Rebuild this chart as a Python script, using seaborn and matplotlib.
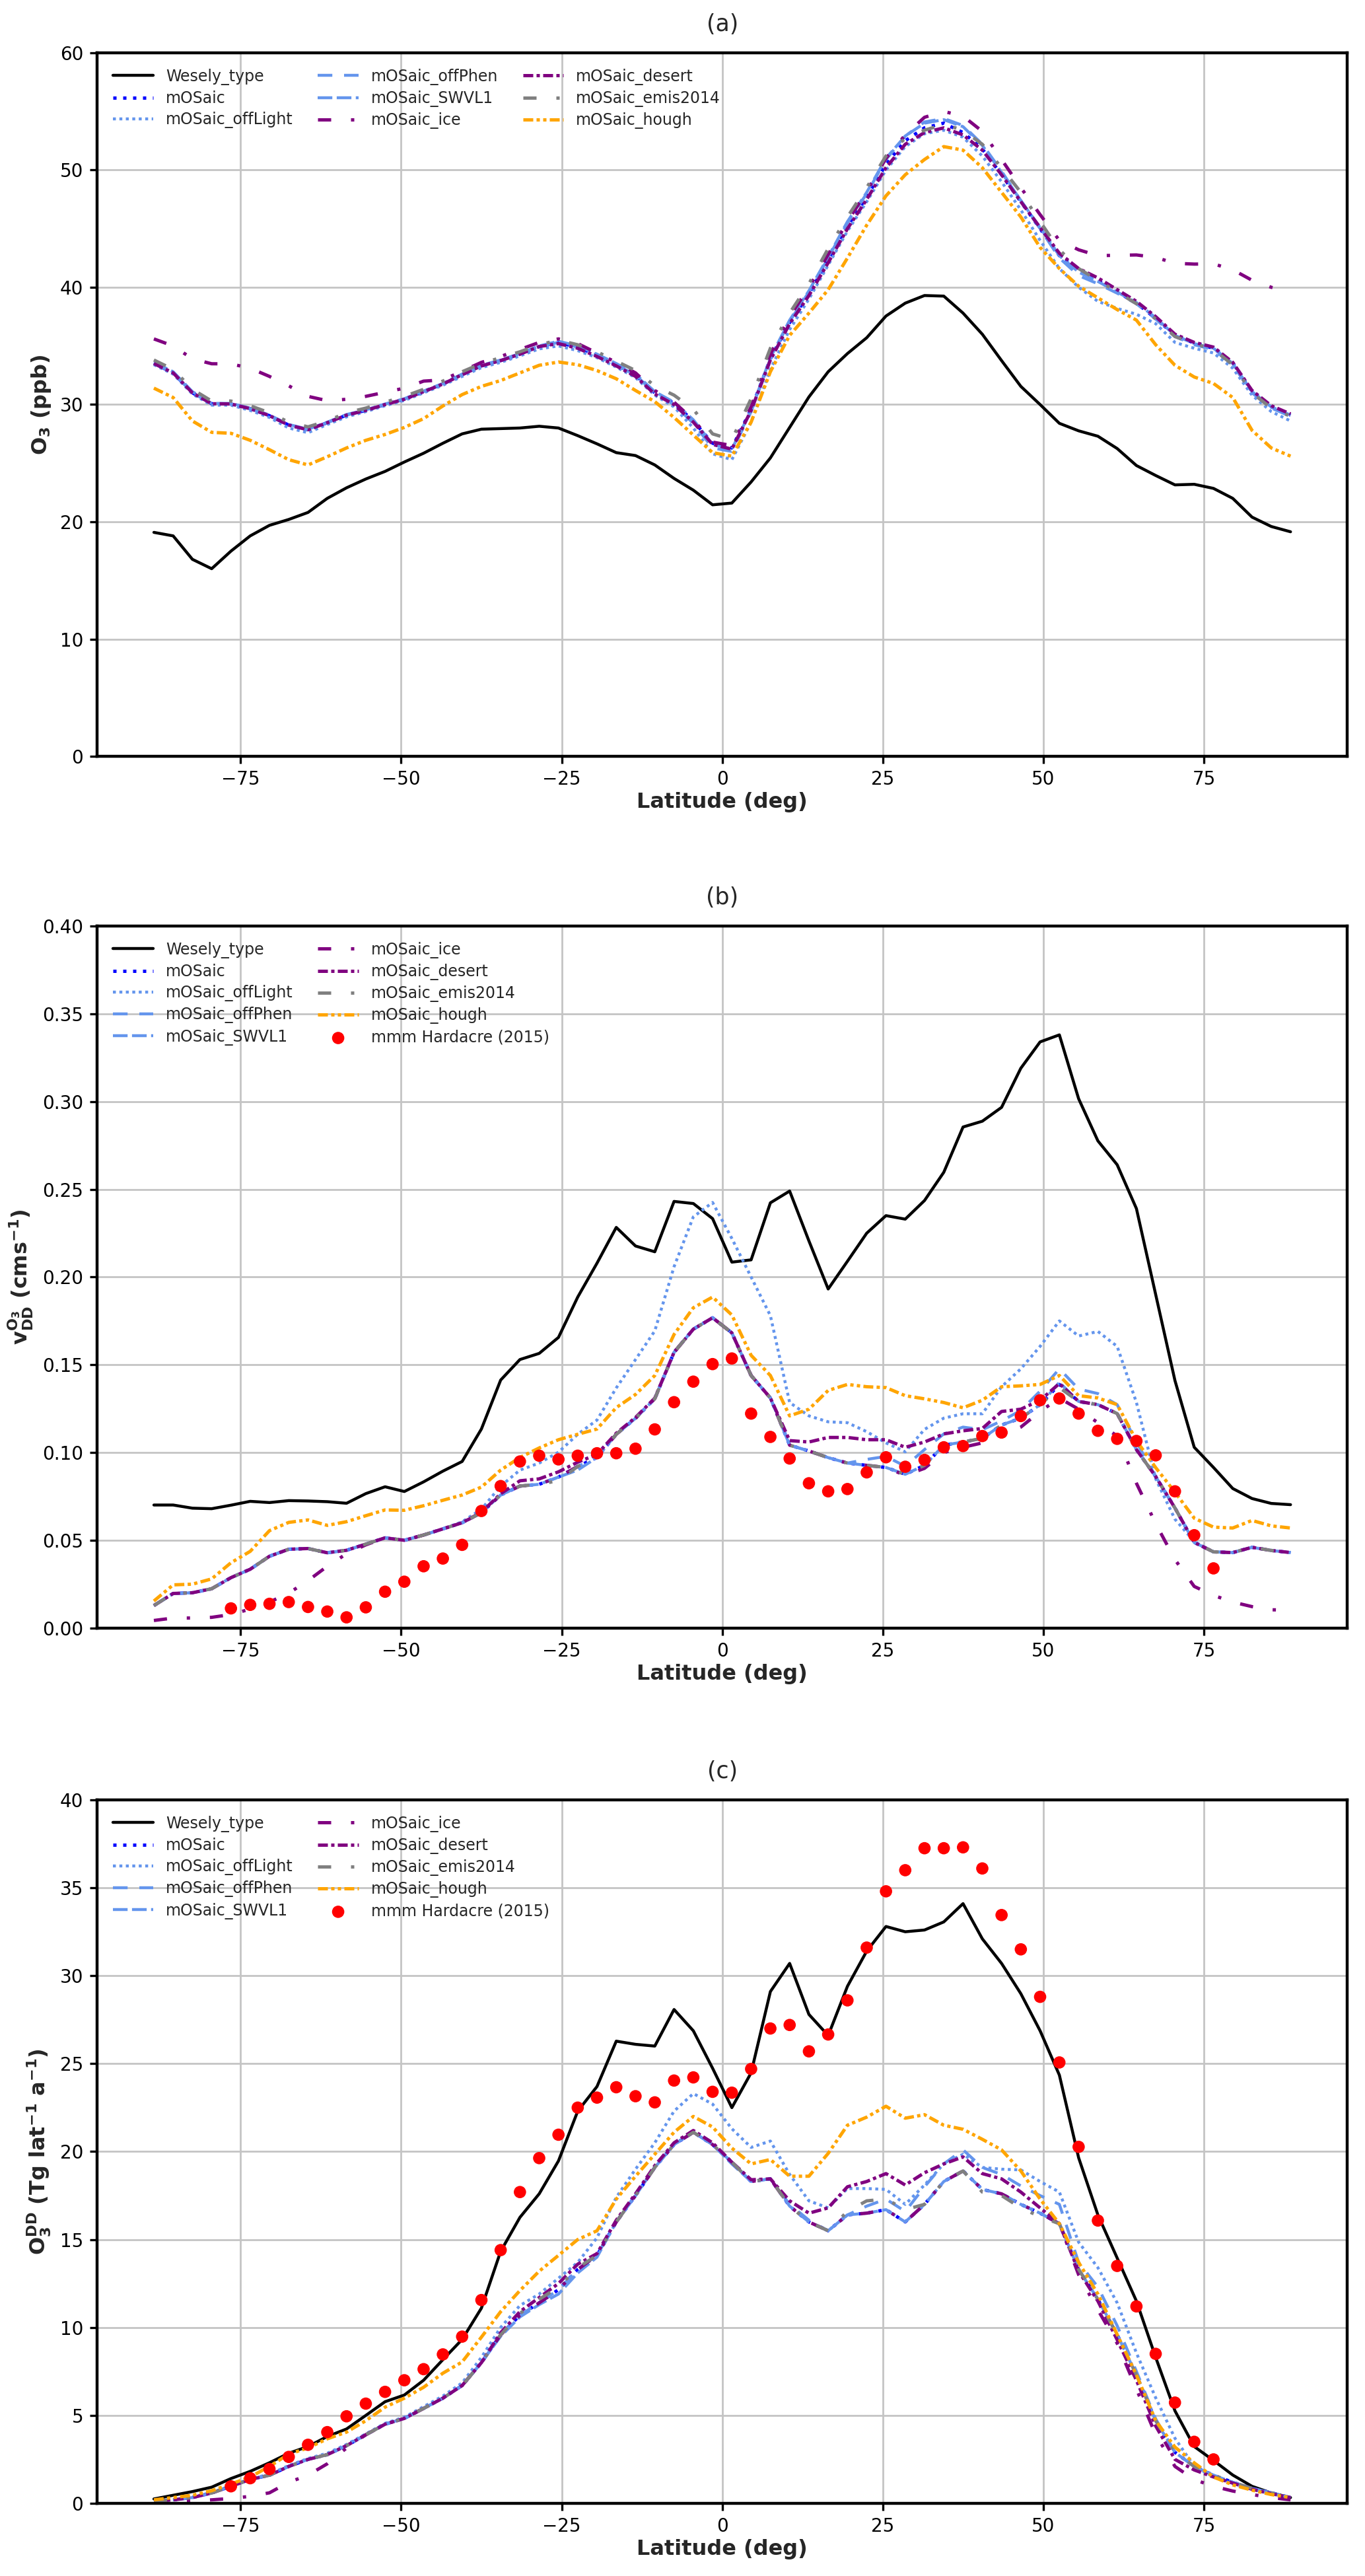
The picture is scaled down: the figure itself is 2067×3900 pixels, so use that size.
import numpy as np
import matplotlib
matplotlib.use("Agg")
import matplotlib.pyplot as plt
import seaborn as sns

# latitude grid of the model zonal means and of the Hardacre (2015) multi-model mean
lat = np.arange(-88.5, 89, 3.0)
lat_h = np.arange(-76.5, 77, 3.0)

# ---------------- panel (a): surface O3 (ppb) ----------------
wes_a = [19.1, 18.8, 16.8, 16.0, 17.5, 18.8, 19.7, 20.2, 20.8, 22.0,
         22.9, 23.65, 24.3, 25.1, 25.85, 26.7, 27.5, 27.9, 27.95, 28.0,
         28.15, 28.0, 27.35, 26.65, 25.9, 25.65, 24.85, 23.7, 22.7, 21.45,
         21.6, 23.4, 25.45, 28.05, 30.65, 32.8, 34.35, 35.7, 37.55, 38.65,
         39.3, 39.25, 37.8, 36.0, 33.75, 31.55, 30.0, 28.4, 27.76, 27.3,
         26.25, 24.8, 23.95, 23.15, 23.2, 22.85, 22.0, 20.4, 19.6, 19.15]
mosaic_a = [33.5, 32.7, 31.0, 30.07, 30.05, 29.65, 29.05, 28.25, 27.85, 28.45,
            29.1, 29.5, 30.0, 30.45, 31.1, 31.75, 32.55, 33.3, 33.75, 34.3,
            34.95, 35.28, 34.9, 34.2, 33.4, 32.5, 31.0, 30.1, 28.6, 26.7,
            26.3, 29.6, 33.9, 37.0, 39.45, 42.3, 45.2, 47.7, 50.5, 52.5,
            53.6, 54.0, 53.2, 51.8, 49.6, 47.3, 45.0, 42.7, 41.45, 40.6,
            39.6, 38.65, 37.35, 35.9, 35.25, 34.8, 33.55, 31.1, 29.8, 29.1]
offlight_a = [33.4, 32.6, 30.9, 29.95, 29.95, 29.5, 28.9, 28.0, 27.6, 28.3,
              28.95, 29.4, 29.9, 30.35, 31.0, 31.65, 32.4, 33.15, 33.6, 34.15,
              34.75, 35.0, 34.6, 34.0, 33.2, 32.3, 30.8, 29.8, 28.0, 25.8,
              25.3, 28.5, 33.0, 36.4, 39.0, 41.9, 44.8, 47.3, 50.0, 52.0,
              53.1, 53.4, 52.8, 51.2, 49.0, 46.6, 44.0, 41.6, 40.0, 38.8,
              38.2, 37.7, 36.9, 35.3, 34.8, 34.4, 33.1, 30.8, 29.4, 28.6]
offphen_a = [33.5, 32.7, 31.0, 30.07, 30.05, 29.65, 29.05, 28.25, 27.85, 28.45,
             29.1, 29.5, 30.0, 30.45, 31.1, 31.75, 32.55, 33.3, 33.75, 34.3,
             34.95, 35.3, 34.9, 34.2, 33.4, 32.5, 31.0, 30.0, 28.4, 26.3,
             26.0, 29.4, 33.9, 37.1, 39.6, 42.5, 45.5, 48.0, 50.9, 52.9,
             54.1, 54.4, 53.8, 52.2, 49.9, 47.4, 45.0, 42.5, 41.0, 40.3,
             39.5, 38.6, 37.3, 35.8, 35.1, 34.7, 33.4, 31.0, 29.7, 29.0]
swvl1_a = [33.6, 32.8, 31.1, 30.1, 30.1, 29.7, 29.1, 28.3, 27.9, 28.5,
           29.15, 29.55, 30.05, 30.5, 31.15, 31.8, 32.6, 33.35, 33.8, 34.35,
           35.0, 35.4, 35.0, 34.3, 33.5, 32.6, 31.1, 30.2, 28.7, 26.6,
           26.2, 29.5, 34.0, 37.2, 39.7, 42.6, 45.6, 48.1, 51.0, 52.9,
           54.0, 54.3, 53.7, 52.1, 49.8, 47.4, 45.1, 42.7, 41.3, 40.5,
           39.6, 38.7, 37.4, 35.9, 35.2, 34.8, 33.5, 31.1, 29.8, 29.1]
ice_a = [35.6, 35.0, 33.9, 33.48, 33.47, 33.1, 32.4, 31.6, 30.7, 30.33,
         30.45, 30.7, 31.05, 31.4, 32.0, 32.1, 32.85, 33.6, 34.1, 34.7,
         35.3, 35.6, 35.2, 34.4, 33.6, 32.7, 31.2, 30.2, 28.7, 26.8,
         26.5, 29.8, 34.3, 37.5, 40.0, 42.8, 45.6, 48.2, 51.0, 53.0,
         54.5, 55.0, 54.6, 53.3, 50.9, 48.5, 46.2, 44.0, 43.2, 42.7,
         42.73, 42.76, 42.55, 42.05, 41.98, 42.0, 41.5, 40.6, 40.0, 39.6]
desert_a = [33.5, 32.7, 31.0, 30.07, 30.05, 29.65, 29.05, 28.25, 27.85, 28.45,
            29.1, 29.5, 30.0, 30.45, 31.1, 31.75, 32.55, 33.3, 33.75, 34.3,
            34.95, 35.2, 34.8, 34.1, 33.3, 32.4, 30.9, 30.0, 28.5, 26.6,
            26.2, 29.5, 33.8, 36.9, 39.3, 42.1, 45.0, 47.5, 50.2, 52.2,
            53.2, 53.6, 53.0, 51.7, 49.6, 47.3, 45.1, 42.9, 41.6, 40.8,
            39.8, 38.8, 37.5, 36.0, 35.3, 34.9, 33.6, 31.2, 29.9, 29.2]
emis_a = [33.8, 33.0, 31.3, 30.3, 30.3, 29.9, 29.3, 28.5, 28.1, 28.6,
          29.3, 29.7, 30.2, 30.7, 31.3, 32.0, 32.8, 33.5, 34.0, 34.5,
          35.1, 35.5, 35.1, 34.5, 33.7, 32.9, 31.6, 30.8, 29.6, 27.5,
          27.0, 30.5, 34.8, 37.8, 40.3, 43.3, 46.0, 48.5, 51.2, 52.7,
          53.4, 53.9, 53.4, 52.2, 50.2, 48.1, 45.6, 43.2, 41.6, 40.6,
          39.6, 38.6, 37.3, 35.8, 35.2, 34.7, 33.4, 31.0, 29.7, 29.0]
hough_a = [31.4, 30.6, 28.6, 27.63, 27.55, 26.95, 26.15, 25.3, 24.85, 25.55,
           26.3, 26.95, 27.45, 28.05, 28.8, 29.88, 30.85, 31.55, 32.05, 32.7,
           33.35, 33.63, 33.4, 32.9, 32.2, 31.2, 30.25, 28.9, 27.4, 25.9,
           25.6, 28.5, 32.8, 35.9, 37.8, 39.8, 42.5, 45.3, 47.8, 49.6,
           50.9, 52.0, 51.7, 50.2, 48.1, 46.0, 43.4, 41.6, 40.1, 39.1,
           38.1, 37.2, 35.1, 33.35, 32.35, 31.8, 30.6, 27.8, 26.3, 25.6]

# ---------------- panel (b): O3 dry deposition velocity (cm s-1) ----------------
wes_b = [0.0701, 0.0701, 0.0683, 0.0680, 0.0700, 0.0722, 0.0715, 0.0726, 0.0724, 0.0720,
         0.0711, 0.0766, 0.0805, 0.0778, 0.0833, 0.0894, 0.0949, 0.1134, 0.1413, 0.1530,
         0.1565, 0.1656, 0.1886, 0.2079, 0.2283, 0.2177, 0.2144, 0.2431, 0.2419, 0.2333,
         0.2085, 0.2098, 0.2423, 0.2490, 0.2206, 0.1932, 0.2090, 0.2250, 0.2350, 0.2330,
         0.2436, 0.2597, 0.2855, 0.2888, 0.2967, 0.3190, 0.3340, 0.3380, 0.3016, 0.2776,
         0.2640, 0.2390, 0.1900, 0.1410, 0.1030, 0.0915, 0.0795, 0.0738, 0.0710, 0.0703]
mosaic_b = [0.0128, 0.0197, 0.0201, 0.0224, 0.0287, 0.0335, 0.0409, 0.0449, 0.0453, 0.0429,
            0.0443, 0.0478, 0.0514, 0.0500, 0.0530, 0.0565, 0.0600, 0.0657, 0.0758, 0.0809,
            0.0819, 0.0860, 0.0921, 0.0972, 0.1104, 0.1195, 0.1307, 0.1571, 0.1703, 0.1768,
            0.1682, 0.1439, 0.1311, 0.1042, 0.1009, 0.0971, 0.0940, 0.0927, 0.0915, 0.0876,
            0.0927, 0.1042, 0.1060, 0.1081, 0.1157, 0.1196, 0.1273, 0.1388, 0.1291, 0.1273,
            0.1222, 0.1017, 0.0863, 0.0684, 0.0488, 0.0434, 0.0430, 0.0460, 0.0442, 0.0430]
offlight_b = [0.0128, 0.0197, 0.0201, 0.0224, 0.0287, 0.0335, 0.0409, 0.0449, 0.0453, 0.0429,
              0.0443, 0.0478, 0.0514, 0.0500, 0.0530, 0.0565, 0.0605, 0.0677, 0.0809, 0.0900,
              0.0940, 0.1002, 0.1104, 0.1185, 0.1368, 0.1530, 0.1693, 0.2059, 0.2343, 0.2425,
              0.2220, 0.2000, 0.1780, 0.1285, 0.1209, 0.1175, 0.1170, 0.1119, 0.1055, 0.1004,
              0.1132, 0.1196, 0.1221, 0.1221, 0.1375, 0.1477, 0.1605, 0.1750, 0.1664, 0.1690,
              0.1605, 0.1285, 0.0850, 0.0620, 0.0493, 0.0434, 0.0430, 0.0460, 0.0442, 0.0430]
offphen_b = [0.0128, 0.0197, 0.0201, 0.0224, 0.0287, 0.0335, 0.0409, 0.0449, 0.0453, 0.0429,
             0.0443, 0.0478, 0.0514, 0.0500, 0.0530, 0.0565, 0.0600, 0.0657, 0.0758, 0.0809,
             0.0819, 0.0860, 0.0921, 0.0972, 0.1104, 0.1195, 0.1307, 0.1571, 0.1703, 0.1768,
             0.1682, 0.1439, 0.1311, 0.1042, 0.1009, 0.0971, 0.0940, 0.0961, 0.0978, 0.0922,
             0.1017, 0.1106, 0.1145, 0.1130, 0.1180, 0.1240, 0.1350, 0.1477, 0.1362, 0.1336,
             0.1273, 0.1060, 0.0863, 0.0684, 0.0488, 0.0434, 0.0430, 0.0460, 0.0442, 0.0430]
swvl1_b = [0.0128, 0.0197, 0.0201, 0.0224, 0.0287, 0.0335, 0.0409, 0.0449, 0.0453, 0.0429,
           0.0443, 0.0478, 0.0514, 0.0500, 0.0530, 0.0565, 0.0600, 0.0657, 0.0758, 0.0809,
           0.0819, 0.0860, 0.0900, 0.0972, 0.1104, 0.1195, 0.1307, 0.1571, 0.1703, 0.1768,
           0.1682, 0.1439, 0.1311, 0.1042, 0.1009, 0.0971, 0.0940, 0.0927, 0.0915, 0.0876,
           0.0927, 0.1042, 0.1060, 0.1081, 0.1157, 0.1196, 0.1273, 0.1400, 0.1291, 0.1273,
           0.1222, 0.1017, 0.0863, 0.0684, 0.0488, 0.0434, 0.0430, 0.0460, 0.0442, 0.0430]
ice_b = [0.0043, 0.0057, 0.0057, 0.0061, 0.0077, 0.0108, 0.0148, 0.0199, 0.0270, 0.0352,
         0.0423, 0.0474, 0.0514, 0.0500, 0.0530, 0.0565, 0.0600, 0.0657, 0.0758, 0.0809,
         0.0819, 0.0860, 0.0921, 0.0972, 0.1104, 0.1195, 0.1307, 0.1571, 0.1703, 0.1768,
         0.1682, 0.1439, 0.1311, 0.1042, 0.1009, 0.0971, 0.0940, 0.0927, 0.0915, 0.0870,
         0.0910, 0.1000, 0.1030, 0.1055, 0.1100, 0.1145, 0.1234, 0.1310, 0.1247, 0.1170,
         0.1094, 0.0825, 0.0595, 0.0390, 0.0237, 0.0186, 0.0148, 0.0122, 0.0104, 0.0102]
desert_b = [0.0128, 0.0197, 0.0201, 0.0224, 0.0287, 0.0335, 0.0409, 0.0449, 0.0453, 0.0429,
            0.0443, 0.0478, 0.0514, 0.0500, 0.0530, 0.0565, 0.0600, 0.0660, 0.0765, 0.0839,
            0.0850, 0.0890, 0.0945, 0.0990, 0.1110, 0.1200, 0.1310, 0.1571, 0.1703, 0.1768,
            0.1682, 0.1439, 0.1311, 0.1068, 0.1060, 0.1086, 0.1086, 0.1073, 0.1073, 0.1030,
            0.1060, 0.1106, 0.1124, 0.1137, 0.1234, 0.1247, 0.1298, 0.1393, 0.1291, 0.1273,
            0.1222, 0.1017, 0.0863, 0.0684, 0.0488, 0.0434, 0.0430, 0.0460, 0.0442, 0.0430]
emis_b = [0.0128, 0.0197, 0.0201, 0.0224, 0.0287, 0.0335, 0.0409, 0.0449, 0.0453, 0.0429,
          0.0443, 0.0478, 0.0514, 0.0500, 0.0530, 0.0565, 0.0600, 0.0657, 0.0758, 0.0809,
          0.0819, 0.0840, 0.0921, 0.0972, 0.1104, 0.1195, 0.1307, 0.1571, 0.1703, 0.1768,
          0.1682, 0.1439, 0.1311, 0.1042, 0.1009, 0.0971, 0.0940, 0.0927, 0.0915, 0.0876,
          0.0927, 0.1042, 0.1060, 0.1081, 0.1157, 0.1196, 0.1273, 0.1370, 0.1291, 0.1273,
          0.1222, 0.1017, 0.0863, 0.0684, 0.0488, 0.0434, 0.0430, 0.0460, 0.0442, 0.0430]
hough_b = [0.0154, 0.0246, 0.0250, 0.0280, 0.0372, 0.0437, 0.0555, 0.0602, 0.0616, 0.0585,
           0.0606, 0.0640, 0.0673, 0.0671, 0.0697, 0.0728, 0.0758, 0.0803, 0.0900, 0.0972,
           0.1026, 0.1073, 0.1104, 0.1134, 0.1256, 0.1331, 0.1439, 0.1673, 0.1825, 0.1886,
           0.1784, 0.1554, 0.1439, 0.1209, 0.1247, 0.1354, 0.1388, 0.1375, 0.1370, 0.1324,
           0.1306, 0.1285, 0.1255, 0.1298, 0.1375, 0.1380, 0.1388, 0.1439, 0.1324, 0.1311,
           0.1273, 0.1068, 0.0914, 0.0774, 0.0626, 0.0575, 0.0570, 0.0613, 0.0582, 0.0570]
hard_b = [0.0112, 0.0132, 0.0138, 0.0148, 0.0120, 0.0094, 0.0061, 0.0118, 0.0207, 0.0264,
          0.0352, 0.0396, 0.0474, 0.0667, 0.0809, 0.0949, 0.0982, 0.0961, 0.0982, 0.0996,
          0.0996, 0.1022, 0.1132, 0.1287, 0.1404, 0.1504, 0.1536, 0.1222, 0.1089, 0.0966,
          0.0825, 0.0779, 0.0792, 0.0887, 0.0973, 0.0919, 0.0958, 0.1030, 0.1037, 0.1094,
          0.1114, 0.1208, 0.1298, 0.1308, 0.1222, 0.1124, 0.1078, 0.1066, 0.0984, 0.0779,
          0.0529, 0.0340]

# ---------------- panel (c): O3 dry deposition (Tg lat-1 a-1) ----------------
wes_c = [0.25, 0.46, 0.67, 0.92, 1.41, 1.82, 2.31, 2.85, 3.23, 3.80,
         4.23, 5.00, 5.78, 6.16, 7.00, 8.17, 9.32, 11.1, 14.33, 16.26,
         17.6, 19.47, 22.3, 23.7, 26.28, 26.1, 26.0, 28.08, 26.87, 24.74,
         22.5, 24.48, 29.1, 30.7, 27.8, 26.6, 29.4, 31.4, 32.8, 32.5,
         32.6, 33.06, 34.1, 32.1, 30.7, 28.98, 26.87, 24.35, 19.65, 16.4,
         13.95, 11.5, 8.3, 5.26, 3.23, 2.44, 1.61, 0.97, 0.59, 0.33]
mosaic_c = [0.13, 0.20, 0.33, 0.59, 0.97, 1.36, 1.60, 2.10, 2.50, 2.77,
            3.28, 3.90, 4.50, 4.83, 5.40, 5.98, 6.70, 8.00, 9.58, 10.7,
            11.4, 12.15, 13.3, 14.1, 16.0, 17.5, 19.1, 20.4, 21.1, 20.4,
            19.4, 18.3, 18.45, 16.9, 16.0, 15.5, 16.4, 16.5, 16.7, 16.0,
            17.0, 18.3, 18.9, 17.85, 17.6, 17.0, 16.5, 15.9, 13.3, 11.6,
            9.6, 7.3, 4.7, 2.9, 2.1, 1.6, 1.2, 0.85, 0.6, 0.33]
offlight_c = [0.15, 0.22, 0.36, 0.62, 1.00, 1.40, 1.65, 2.15, 2.55, 2.85,
              3.35, 3.95, 4.55, 4.90, 5.50, 6.10, 6.85, 8.30, 10.0, 11.25,
              11.9, 12.8, 13.7, 15.1, 17.4, 19.0, 20.5, 22.3, 23.3, 22.7,
              21.3, 20.24, 20.6, 18.7, 17.2, 16.8, 17.9, 17.9, 17.85, 17.0,
              18.1, 19.3, 19.85, 19.1, 19.0, 18.96, 18.3, 17.7, 14.85, 13.4,
              11.4, 8.55, 6.0, 3.7, 2.1, 1.5, 1.1, 0.8, 0.55, 0.33]
offphen_c = [0.13, 0.20, 0.33, 0.59, 0.97, 1.36, 1.60, 2.10, 2.50, 2.77,
             3.28, 3.90, 4.50, 4.83, 5.40, 5.98, 6.70, 8.00, 9.58, 10.7,
             11.4, 12.15, 13.3, 14.1, 16.0, 17.5, 19.1, 20.4, 21.1, 20.4,
             19.4, 18.3, 18.45, 17.0, 16.1, 15.5, 16.4, 16.9, 17.3, 16.6,
             18.0, 19.3, 20.1, 19.1, 18.7, 18.05, 17.5, 17.0, 13.7, 12.3,
             10.1, 7.5, 4.8, 2.9, 2.1, 1.6, 1.2, 0.85, 0.6, 0.33]
swvl1_c = [0.13, 0.20, 0.33, 0.59, 0.97, 1.36, 1.60, 2.10, 2.50, 2.77,
           3.28, 3.90, 4.50, 4.83, 5.40, 5.98, 6.70, 8.00, 9.50, 10.6,
           11.3, 11.9, 13.1, 14.0, 16.0, 17.5, 19.1, 20.4, 21.1, 20.4,
           19.3, 18.3, 18.45, 16.9, 16.0, 15.5, 16.4, 16.5, 16.7, 16.0,
           17.0, 18.3, 18.9, 17.85, 17.6, 17.0, 16.5, 15.9, 13.3, 11.6,
           9.6, 7.3, 4.7, 2.9, 2.1, 1.6, 1.2, 0.85, 0.6, 0.33]
ice_c = [0.08, 0.10, 0.15, 0.20, 0.28, 0.40, 0.60, 1.20, 1.60, 2.25,
         3.15, 3.90, 4.50, 4.83, 5.40, 5.98, 6.70, 8.00, 9.58, 10.7,
         11.4, 12.15, 13.3, 14.1, 16.0, 17.5, 19.1, 20.4, 21.1, 20.4,
         19.4, 18.3, 18.45, 16.9, 16.0, 15.5, 16.4, 16.5, 16.7, 16.0,
         17.0, 18.3, 18.9, 17.85, 17.6, 17.0, 16.5, 15.9, 13.0, 11.0,
         9.1, 6.5, 3.9, 2.1, 1.35, 0.97, 0.7, 0.5, 0.33, 0.2]
desert_c = [0.13, 0.20, 0.33, 0.59, 0.97, 1.36, 1.60, 2.10, 2.50, 2.77,
            3.28, 3.90, 4.50, 4.83, 5.40, 5.98, 6.70, 8.00, 9.70, 10.9,
            11.7, 12.5, 13.6, 14.2, 16.1, 17.6, 19.2, 20.5, 21.2, 20.5,
            19.4, 18.4, 18.45, 17.2, 16.5, 16.8, 18.0, 18.3, 18.75, 18.1,
            18.8, 19.3, 19.7, 18.75, 18.45, 17.7, 16.8, 15.9, 13.2, 11.5,
            9.3, 7.0, 4.4, 2.5, 1.9, 1.5, 1.15, 0.8, 0.55, 0.33]
emis_c = [0.13, 0.20, 0.33, 0.59, 0.97, 1.36, 1.60, 2.10, 2.50, 2.77,
          3.28, 3.90, 4.50, 4.83, 5.40, 5.98, 6.70, 8.00, 9.58, 10.8,
          11.6, 12.3, 13.4, 14.1, 16.0, 17.5, 19.1, 20.4, 21.1, 20.4,
          19.4, 18.3, 18.45, 16.9, 16.0, 15.5, 16.6, 17.2, 17.3, 16.7,
          17.0, 18.3, 18.9, 17.7, 17.5, 16.8, 16.3, 15.9, 13.3, 11.6,
          9.6, 7.3, 4.7, 2.9, 2.1, 1.6, 1.2, 0.85, 0.6, 0.33]
hough_c = [0.20, 0.33, 0.46, 0.72, 1.10, 1.50, 2.10, 2.80, 3.15, 3.67,
           4.05, 4.70, 5.47, 5.98, 6.60, 7.40, 8.04, 9.45, 10.9, 12.1,
           13.2, 14.1, 15.0, 15.5, 17.3, 18.6, 19.85, 21.1, 22.0, 21.4,
           20.2, 19.3, 19.55, 18.6, 18.6, 19.9, 21.5, 21.96, 22.58, 21.9,
           22.1, 21.5, 21.27, 20.7, 20.1, 18.9, 17.3, 15.9, 13.7, 11.9,
           9.6, 7.3, 4.7, 3.2, 2.3, 1.5, 1.05, 0.75, 0.5, 0.33]
hard_c = [0.97, 1.43, 1.95, 2.64, 3.33, 4.05, 4.95, 5.67, 6.34, 7.00,
          7.63, 8.47, 9.48, 11.56, 14.4, 17.7, 19.63, 20.96, 22.5, 23.07,
          23.66, 23.15, 22.8, 24.04, 24.22, 23.4, 23.35, 24.7, 27.0, 27.2,
          25.7, 26.66, 28.6, 31.6, 34.8, 36.0, 37.25, 37.25, 37.3, 36.1,
          33.45, 31.5, 28.8, 25.07, 20.27, 16.08, 13.5, 11.2, 8.5, 5.73,
          3.5, 2.5]

run_names = ["Wesely_type", "mOSaic", "mOSaic_offLight", "mOSaic_offPhen",
             "mOSaic_SWVL1", "mOSaic_ice", "mOSaic_desert", "mOSaic_emis2014",
             "mOSaic_hough"]

# colour, linestyle, linewidth for each run
run_styles = {
    "Wesely_type": ("black", "-", 1.6),
    "mOSaic": ("blue", (0, (1, 2)), 1.8),
    "mOSaic_offLight": ("cornflowerblue", (0, (1, 1.2)), 1.6),
    "mOSaic_offPhen": ("cornflowerblue", (0, (5, 4)), 1.6),
    "mOSaic_SWVL1": ("cornflowerblue", (0, (5, 1.5)), 1.6),
    "mOSaic_ice": ("purple", (0, (4, 6, 1, 6)), 1.8),
    "mOSaic_desert": ("purple", (0, (3, 1, 1, 1)), 1.8),
    "mOSaic_emis2014": ("grey", (0, (4, 6, 1, 6)), 1.8),
    "mOSaic_hough": ("orange", (0, (3, 1, 1, 1, 1, 1)), 1.8),
}

panels = [
    ("(a)", [wes_a, mosaic_a, offlight_a, offphen_a, swvl1_a, ice_a, desert_a, emis_a, hough_a],
     None, r"O$_\mathbf{3}$ (ppb)", (0, 60), np.arange(0, 61, 10), "{:.0f}"),
    ("(b)", [wes_b, mosaic_b, offlight_b, offphen_b, swvl1_b, ice_b, desert_b, emis_b, hough_b],
     hard_b, r"$\mathbf{v_{DD}^{O_3}}$ (cms$^{\mathbf{-1}}$)", (0, 0.4), np.arange(0, 0.401, 0.05), "{:.2f}"),
    ("(c)", [wes_c, mosaic_c, offlight_c, offphen_c, swvl1_c, ice_c, desert_c, emis_c, hough_c],
     hard_c, r"$\mathbf{O_3^{DD}}$ (Tg lat$^{\mathbf{-1}}$ a$^{\mathbf{-1}}$)", (0, 40), np.arange(0, 41, 5), "{:.0f}"),
]

sns.set_style("ticks")
plt.rcParams.update({
    "font.family": ["DejaVu Sans"],
    "axes.linewidth": 1.6,
    "xtick.major.width": 1.2,
    "ytick.major.width": 1.2,
    "xtick.major.size": 4,
    "ytick.major.size": 4,
    "xtick.color": "black",
    "ytick.color": "black",
    "axes.edgecolor": "black",
})

fig = plt.figure(figsize=(10.335, 19.5), dpi=200)
boxes = [(0.0711, 0.7064, 0.916, 0.2731),
         (0.0711, 0.3680, 0.916, 0.2725),
         (0.0711, 0.0282, 0.916, 0.2731)]

for (title, series, hard, ylabel, ylim, yticks, fmt), box in zip(panels, boxes):
    ax = fig.add_axes(box)
    for name, vals in zip(run_names, series):
        color, ls, lw = run_styles[name]
        sns.lineplot(x=lat, y=vals, ax=ax, color=color, linestyle=ls,
                     linewidth=lw, label=name)
    if hard is not None:
        sns.scatterplot(x=lat_h, y=hard, ax=ax, color="red", s=45,
                        edgecolor="none", label="mmm Hardacre (2015)", zorder=3)
    ax.set_ylim(*ylim)
    ax.set_xlim(-97.35, 97.35)
    ax.set_xticks([-75, -50, -25, 0, 25, 50, 75])
    ax.set_yticks(yticks)
    ax.set_yticklabels([fmt.format(v) for v in yticks])
    ax.tick_params(labelsize=10)
    ax.grid(True, color="#c4c4c4", linewidth=1.0)
    ax.set_axisbelow(True)
    ax.set_title(title, fontsize=12.5, pad=12)
    ax.set_xlabel("Latitude (deg)", fontsize=11.5, fontweight="bold", labelpad=2)
    ax.set_ylabel(ylabel, fontsize=11.5, fontweight="bold")
    ncol = 3 if hard is None else 2
    ax.legend(loc="upper left", ncol=ncol, frameon=False, fontsize=8.5,
              handlelength=2.6, columnspacing=1.6, labelspacing=0.35,
              borderaxespad=0.6)

fig.savefig("out.png", dpi=200)
